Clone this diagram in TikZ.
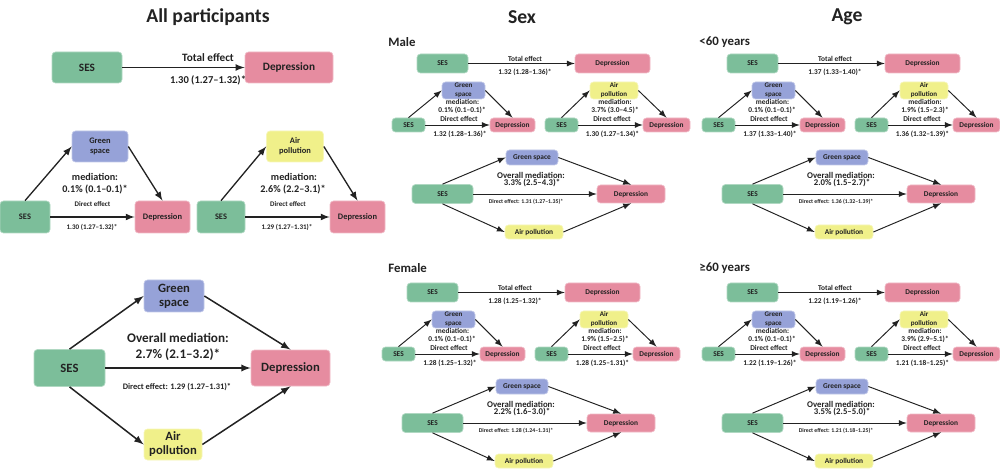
\documentclass[tikz,border=0pt]{standalone}
\usepackage{fontspec}
\setmainfont{Carlito}
\definecolor{sesgreen}{RGB}{124,190,154}
\definecolor{deppink}{RGB}{230,140,160}
\definecolor{gsblue}{RGB}{150,162,216}
\definecolor{airyellow}{RGB}{240,240,138}
\definecolor{ink}{RGB}{34,34,34}
\newcommand\fs[2]{\fontsize{#1}{#2}\selectfont}
\tikzset{
  box/.style={rounded corners=2pt, draw=#1!60!white, line width=0.4pt, fill=#1,
    text=ink, align=center, inner sep=0pt, font=\bfseries\fs{4.2}{5}},
  sz/.style 2 args={minimum width=#1*0.02cm, minimum height=#2*0.02cm},
  lbl/.style={text=ink, inner sep=0pt, align=center, font=\bfseries\fs{4.2}{5}},
  arr/.style={->, >=latex, draw=ink, line width=#1},
  arr/.default=0.55pt,
}
% one group of the sex / age columns
\newcommand\subgroup[8]{%
  % total effect
  \node[box=sesgreen, sz={51}{19}] (#1sesT) at (57.5,33.5) {SES};
  \node[box=deppink, sz={75}{19}] (#1depT) at (227.5,33.5) {Depression};
  \draw[arr] (#1sesT) -- (#1depT);
  \node[lbl] (#1totL) at (140,29) {Total effect};
  \node[lbl] (#1totV) at (140,42) {#2};
  % green space
  \node[box=gsblue, sz={43}{17}, font=\bfseries\fs{4}{5.2}] (#1gsG) at (78.5,60.5) {Green\\space};
  \node[box=sesgreen, sz={33}{14}] (#1sesG) at (23.5,95) {SES};
  \node[box=deppink, sz={45}{14}] (#1depG) at (127.5,95) {Depression};
  \draw[arr] (#1sesG.north) -- (#1gsG.west);
  \draw[arr] (#1gsG.east) -- (#1depG.north);
  \draw[arr] (#1sesG) -- (#1depG);
  \node[lbl] (#1gsM) at (77.5,72) {mediation:};
  \node[lbl] (#1gsV) at (77,80) {#3};
  \node[lbl] (#1gsD) at (74,89) {Direct effect};
  \node[lbl] (#1gsDV) at (75,104) {#4};
  % air pollution
  \node[box=airyellow, sz={48}{17}, font=\bfseries\fs{4}{5.2}] (#1airA) at (229,60.5) {Air\\pollution};
  \node[box=sesgreen, sz={33}{14}] (#1sesA) at (176.5,95) {SES};
  \node[box=deppink, sz={47}{14}] (#1depA) at (281.5,95) {Depression};
  \draw[arr] (#1sesA.north) -- (#1airA.west);
  \draw[arr] (#1airA.east) -- (#1depA.north);
  \draw[arr] (#1sesA) -- (#1depA);
  \node[lbl] (#1airM) at (230,72) {mediation:};
  \node[lbl] (#1airV) at (230,80) {#5};
  \node[lbl] (#1airD) at (227,89) {Direct effect};
  \node[lbl] (#1airDV) at (227.5,104) {#6};
  % both mediators
  \node[box=gsblue, sz={52}{15}] (#1gsO) at (147,127.5) {Green space};
  \node[box=sesgreen, sz={61}{19}] (#1sesO) at (57.5,164) {SES};
  \node[box=deppink, sz={68}{18}] (#1depO) at (246,164) {Depression};
  \node[box=airyellow, sz={58}{14}] (#1airO) at (149,202) {Air pollution};
  \draw[arr] (#1sesO.north) -- (#1gsO.west);
  \draw[arr] (#1gsO.east) -- (#1depO.north);
  \draw[arr] (#1sesO) -- (#1depO);
  \draw[arr] (#1sesO.south) -- (#1airO.west);
  \draw[arr] (#1airO.east) -- (#1depO.south);
  \node[lbl, font=\bfseries\fs{5}{6}] (#1ovM) at (146,145) {Overall mediation:};
  \node[lbl, font=\bfseries\fs{5}{6}] (#1ovV) at (147,153) {#7};
  \node[lbl, font=\bfseries\fs{3.3}{4}] (#1ovD) at (141,172) {Direct effect: #8};
}
\begin{document}
\begin{tikzpicture}[x=0.02cm, y=-0.02cm]
  \useasboundingbox (0,0) rectangle (1000,469);
  % column titles
  \node[lbl, font=\bfseries\fs{11.2}{13}] (tAll) at (208,17) {All participants};
  \node[lbl, font=\bfseries\fs{11.2}{13}] (tSex) at (522,17) {Sex};
  \node[lbl, font=\bfseries\fs{11.2}{13}] (tAge) at (847,17) {Age};

  %% all participants: total effect
  \node[box=sesgreen, sz={70}{31}, font=\bfseries\fs{6.4}{8}] (aSes) at (87,67.5) {SES};
  \node[box=deppink, sz={88}{31}, font=\bfseries\fs{6.4}{8}] (aDep) at (289,67.5) {Depression};
  \draw[arr=0.8pt] (aSes) -- (aDep);
  \node[lbl, font=\bfseries\fs{6.4}{8}] (aTotL) at (208,58) {Total effect};
  \node[lbl, font=\bfseries\fs{6}{7}] (aTotV) at (208,80) {1.30 (1.27–1.32)*};

  %% all participants: green space
  \node[box=gsblue, sz={56}{31}, font=\bfseries\fs{4.8}{5.8}] (gGs) at (100,146.5) {Green\\space};
  \node[box=sesgreen, sz={50}{32}, font=\bfseries\fs{4.8}{5.8}] (gSes) at (25,217) {SES};
  \node[box=deppink, sz={55}{32}, font=\bfseries\fs{4.8}{5.8}] (gDep) at (162.5,217) {Depression};
  \draw[arr=0.75pt] (gSes.north) -- (gGs.west);
  \draw[arr=0.75pt] (gGs.east) -- (gDep.north);
  \draw[arr=0.75pt] (gSes) -- (gDep);
  \node[lbl, font=\bfseries\fs{5.8}{7}] (gMed) at (95,177) {mediation:};
  \node[lbl, font=\bfseries\fs{5.8}{7}] (gVal) at (95,189.5) {0.1\% (0.1–0.1)*};
  \node[lbl, font=\bfseries\fs{4}{5}] (gDir) at (92.5,204) {Direct effect};
  \node[lbl, font=\bfseries\fs{4}{5}] (gDirV) at (92,227.5) {1.30 (1.27–1.32)*};

  %% all participants: air pollution
  \node[box=airyellow, sz={57}{31}, font=\bfseries\fs{4.8}{5.8}] (pAir) at (295,146.5) {Air\\pollution};
  \node[box=sesgreen, sz={48}{32}, font=\bfseries\fs{4.8}{5.8}] (pSes) at (221,217) {SES};
  \node[box=deppink, sz={55}{32}, font=\bfseries\fs{4.8}{5.8}] (pDep) at (357.5,217) {Depression};
  \draw[arr=0.75pt] (pSes.north) -- (pAir.west);
  \draw[arr=0.75pt] (pAir.east) -- (pDep.north);
  \draw[arr=0.75pt] (pSes) -- (pDep);
  \node[lbl, font=\bfseries\fs{5.8}{7}] (pMed) at (294,177) {mediation:};
  \node[lbl, font=\bfseries\fs{5.8}{7}] (pVal) at (293,189.5) {2.6\% (2.2–3.1)*};
  \node[lbl, font=\bfseries\fs{4}{5}] (pDir) at (288,204) {Direct effect};
  \node[lbl, font=\bfseries\fs{4}{5}] (pDirV) at (287,227.5) {1.29 (1.27–1.31)*};

  %% all participants: both mediators
  \node[box=gsblue, sz={60}{32}, font=\bfseries\fs{7.2}{8}] (oGs) at (174,296) {Green\\space};
  \node[box=sesgreen, sz={71}{37}, font=\bfseries\fs{7.2}{8}] (oSes) at (69.5,368) {SES};
  \node[box=deppink, sz={79}{36}, font=\bfseries\fs{7.2}{8}] (oDep) at (290.5,368) {Depression};
  \node[box=airyellow, sz={58}{31}, font=\bfseries\fs{7.2}{8}] (oAir) at (173,444.5) {Air\\pollution};
  \draw[arr=0.85pt] (oSes.north) -- (oGs.west);
  \draw[arr=0.85pt] (oGs.east) -- (oDep.north);
  \draw[arr=0.85pt] (oSes) -- (oDep);
  \draw[arr=0.85pt] (oSes.south) -- (oAir.west);
  \draw[arr=0.85pt] (oAir.east) -- (oDep.south);
  \node[lbl, font=\bfseries\fs{7.5}{9}] (oMed) at (178,338) {Overall mediation:};
  \node[lbl, font=\bfseries\fs{7.5}{9}] (oVal) at (178,355) {2.7\% (2.1–3.2)*};
  \node[lbl, font=\bfseries\fs{4.8}{6}] (oDir) at (177,387) {Direct effect: 1.29 (1.27–1.31)*};

  %% sex
  \node[lbl, anchor=west, font=\bfseries\fs{7.3}{9}] (hMale) at (388,42) {Male};
  \begin{scope}[shift={(385,30)}]
    \subgroup{m}{1.32 (1.28–1.36)*}{0.1\% (0.1–0.1)*}{1.32 (1.28–1.36)*}{3.7\% (3.0–4.5)*}{1.30 (1.27–1.34)*}{3.3\% (2.5–4.3)*}{1.31 (1.27–1.35)*}
  \end{scope}
  \node[lbl, anchor=west, font=\bfseries\fs{7.3}{9}] (hFemale) at (388,268) {Female};
  \begin{scope}[shift={(375,259)}]
    \subgroup{f}{1.28 (1.25–1.32)*}{0.1\% (0.1–0.1)*}{1.28 (1.25–1.32)*}{1.9\% (1.5–2.5)*}{1.28 (1.25–1.31)*}{2.2\% (1.6–3.0)*}{1.28 (1.24–1.31)*}
  \end{scope}

  %% age
  \node[lbl, anchor=west, font=\bfseries\fs{7.3}{9}] (hYoung) at (699,42) {<60 years};
  \begin{scope}[shift={(695,30)}]
    \subgroup{y}{1.37 (1.33–1.40)*}{0.1\% (0.1–0.1)*}{1.37 (1.33–1.40)*}{1.9\% (1.5–2.3)*}{1.36 (1.32–1.39)*}{2.0\% (1.5–2.7)*}{1.36 (1.32–1.39)*}
  \end{scope}
  \node[lbl, anchor=west, font=\bfseries\fs{7.3}{9}] (hOld) at (699,268) {≥60 years};
  \begin{scope}[shift={(695,259)}]
    \subgroup{o}{1.22 (1.19–1.26)*}{0.1\% (0.1–0.1)*}{1.22 (1.19–1.26)*}{3.9\% (2.9–5.1)*}{1.21 (1.18–1.25)*}{3.5\% (2.5–5.0)*}{1.21 (1.18–1.25)*}
  \end{scope}
\end{tikzpicture}
\end{document}
